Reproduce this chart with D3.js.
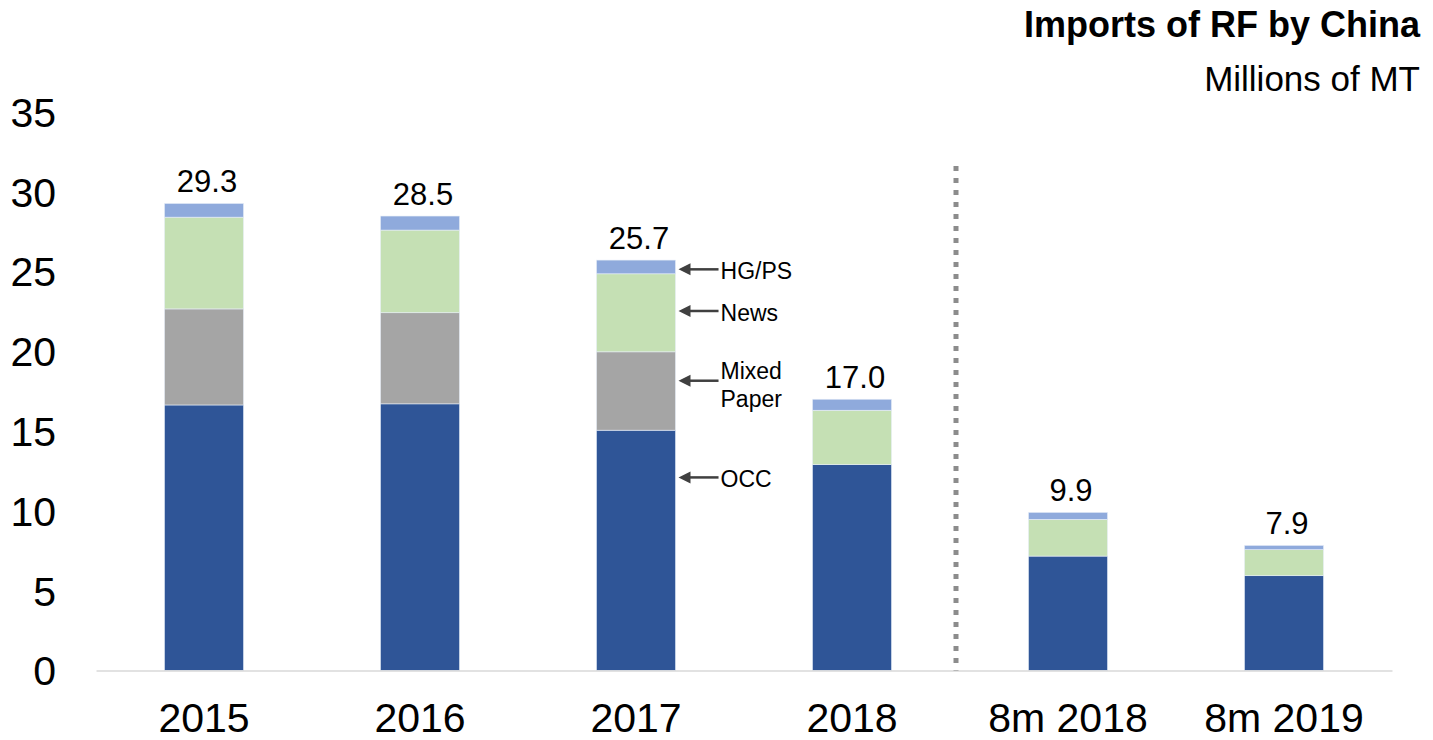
<!DOCTYPE html>
<html>
<head>
<meta charset="utf-8">
<script src="https://cdn.jsdelivr.net/npm/d3@7"></script>
<style>
  body { margin: 0; background: #fff; }
  svg text { font-family: "Liberation Sans", Arial, sans-serif; }
</style>
</head>
<body>
<svg width="1433" height="740"></svg>
<script>
// data
var categories = ['2015', '2016', '2017', '2018', '8m 2018', '8m 2019'];
var occ   = [16.64, 16.71, 15.06, 12.90, 7.17, 5.94];
var mixed = [6.02, 5.71, 4.91, 0, 0, 0];
var news  = [5.75, 5.18, 4.89, 3.41, 2.30, 1.63];
var hgps  = [0.86, 0.88, 0.86, 0.69, 0.44, 0.27];
var totals = ['29.3', '28.5', '25.7', '17.0', '9.9', '7.9'];
var yTicks = [0, 5, 10, 15, 20, 25, 30, 35];
var seriesNames = ['OCC', 'Mixed Paper', 'News', 'HG/PS'];
// callouts beside the 2017 bar: label lines and the level the arrow points at
var callouts = [
  { lines: ['HG/PS'], at: 25.14 },
  { lines: ['News'], at: 22.53 },
  { lines: ['Mixed', 'Paper'], at: 18.16 },
  { lines: ['OCC'], at: 12.1 }
];

var colors = { 'OCC': '#2f5597', 'Mixed Paper': '#a5a5a5', 'News': '#c5e0b4', 'HG/PS': '#8faadc' };

var svg = d3.select('svg');

var x = d3.scaleBand()
  .domain(categories)
  .range([96, 1392])
  .paddingInner(0.634)
  .paddingOuter(0.317);

var y = d3.scaleLinear().domain([0, 35]).range([670.5, 112]);

// build rows for the stack
var rows = categories.map(function(c, i) {
  return { cat: c, 'OCC': occ[i], 'Mixed Paper': mixed[i], 'News': news[i], 'HG/PS': hgps[i] };
});
var stacked = d3.stack().keys(seriesNames)(rows);

// y axis labels (no line)
var yAxis = svg.append('g')
  .attr('transform', 'translate(56,0)')
  .call(d3.axisLeft(y).tickValues(yTicks).tickSize(0).tickPadding(0));
yAxis.select('.domain').remove();
yAxis.selectAll('text')
  .attr('font-size', 41)
  .attr('fill', '#000')
  .attr('dy', '0.35em');

// bars
svg.append('g').selectAll('g')
  .data(stacked)
  .join('g')
  .attr('fill', function(d) { return colors[d.key]; })
  .selectAll('rect')
  .data(function(d) { return d; })
  .join('rect')
  .attr('x', function(d) { return x(d.data.cat); })
  .attr('width', x.bandwidth())
  .attr('y', function(d) { return y(d[1]); })
  .attr('height', function(d) { return Math.max(0, y(d[0]) - y(d[1])); })
  .attr('stroke', '#e8eef8')
  .attr('stroke-width', function(d) { return d[1] > d[0] ? 0.6 : 0; });

// x axis line + labels
var xAxis = svg.append('g')
  .attr('transform', 'translate(0,' + y(0) + ')')
  .call(d3.axisBottom(x).tickSize(0).tickPadding(0));
xAxis.select('.domain').attr('stroke', '#d9d9d9').attr('stroke-width', 1.5);
xAxis.selectAll('text')
  .attr('font-size', 41)
  .attr('fill', '#000')
  .attr('dy', 0)
  .attr('y', 61);

// total labels
var topSeries = stacked[stacked.length - 1];
svg.append('g').selectAll('text')
  .data(topSeries)
  .join('text')
  .attr('x', function(d) { return x(d.data.cat) + x.bandwidth() / 2 + 3; })
  .attr('y', function(d) { return y(d[1]) - 11; })
  .attr('text-anchor', 'middle')
  .attr('font-size', 31)
  .attr('fill', '#000')
  .text(function(d, i) { return totals[i]; });

// dotted separator between full years and 8-month figures
var sepX = x('8m 2018') - x.step() * x.paddingInner() / 2 - 4;
svg.append('line')
  .attr('x1', sepX).attr('x2', sepX)
  .attr('y1', 166).attr('y2', y(0))
  .attr('stroke', '#8c8c8c')
  .attr('stroke-width', 5)
  .attr('stroke-dasharray', '5,7');

// callouts
var cx = x('2017') + x.bandwidth();
var notes = svg.append('g');
callouts.forEach(function(c) {
  var ay = y(c.at);
  notes.append('line')
    .attr('x1', cx + 12).attr('x2', cx + 43)
    .attr('y1', ay).attr('y2', ay)
    .attr('stroke', '#404040').attr('stroke-width', 2.5);
  notes.append('path')
    .attr('d', 'M' + (cx + 3) + ',' + ay + 'L' + (cx + 15) + ',' + (ay - 6) + 'L' + (cx + 15) + ',' + (ay + 6) + 'Z')
    .attr('fill', '#404040');
  var t = notes.append('text')
    .attr('x', cx + 45)
    .attr('font-size', 23)
    .attr('fill', '#000');
  if (c.lines.length === 1) {
    t.attr('y', ay + 10).text(c.lines[0]);
  } else {
    t.attr('y', ay - 2);
    c.lines.forEach(function(l, i) {
      t.append('tspan').attr('x', cx + 45).attr('dy', i === 0 ? 0 : 28).text(l);
    });
  }
});

// title
svg.append('text')
  .attr('x', 1420).attr('y', 37)
  .attr('text-anchor', 'end')
  .attr('font-size', 36)
  .attr('font-weight', 'bold')
  .text('Imports of RF by China');
svg.append('text')
  .attr('x', 1420).attr('y', 91)
  .attr('text-anchor', 'end')
  .attr('font-size', 35)
  .text('Millions of MT');
</script>
</body>
</html>
